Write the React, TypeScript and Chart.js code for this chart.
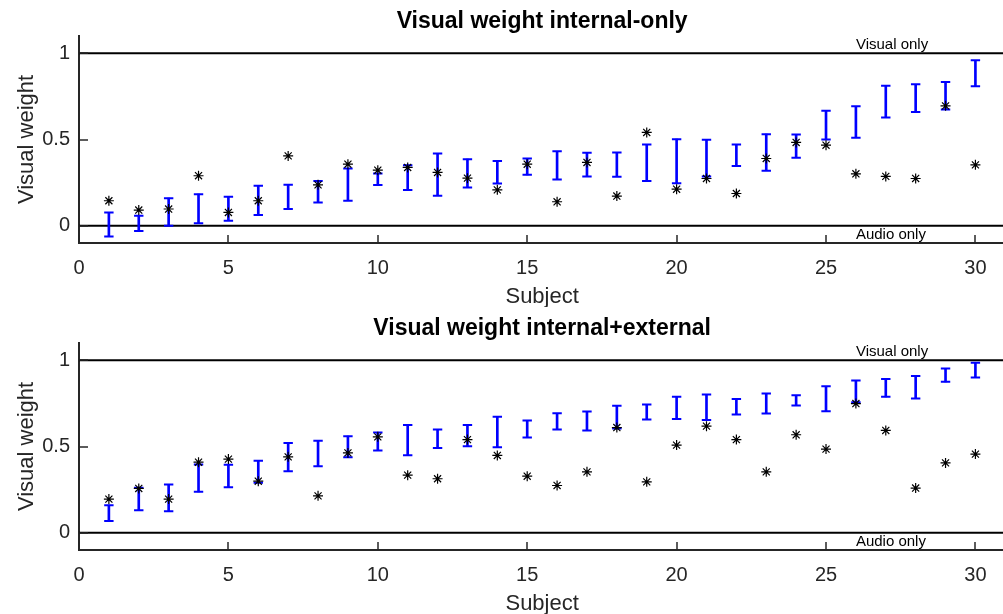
import React, { useEffect, useRef } from 'react';
import { Chart, registerables } from 'chart.js';

Chart.register(...registerables);

// ---------- data ----------
const SUBJECTS = [1, 2, 3, 4, 5, 6, 7, 8, 9, 10, 11, 12, 13, 14, 15, 16, 17, 18, 19, 20, 21, 22, 23, 24, 25, 26, 27, 28, 29, 30];
const X_TICKS = [0, 5, 10, 15, 20, 25, 30];
const Y_TICKS = [0, 0.5, 1];
const X_MIN = 0;
const X_MAX = 31;
const Y_MIN = -0.1;
const Y_MAX = 1.1;
const REFERENCE_LEVELS = [0, 1];
const ANNOTATION_TEXTS = ['Visual only', 'Audio only'];
const ANNOTATION_X = [26, 26];
const ANNOTATION_Y = [1.05, -0.05];

const TITLES = ['Visual weight internal-only', 'Visual weight internal+external'];
const X_LABEL = 'Subject';
const Y_LABEL = 'Visual weight';

const INTERNAL_LOW = [-0.062, -0.031, 0.0, 0.015, 0.029, 0.062, 0.097, 0.135, 0.145, 0.236, 0.207, 0.174, 0.222, 0.245, 0.295, 0.268, 0.286, 0.284, 0.259, 0.247, 0.286, 0.346, 0.319, 0.394, 0.5, 0.51, 0.627, 0.66, 0.674, 0.809];
const INTERNAL_HIGH = [0.077, 0.058, 0.16, 0.183, 0.168, 0.232, 0.237, 0.26, 0.332, 0.303, 0.351, 0.419, 0.386, 0.376, 0.39, 0.432, 0.423, 0.425, 0.471, 0.502, 0.498, 0.471, 0.531, 0.529, 0.666, 0.693, 0.811, 0.82, 0.834, 0.959];
const INTERNAL_OBSERVED = [0.145, 0.091, 0.097, 0.29, 0.077, 0.145, 0.405, 0.237, 0.357, 0.322, 0.338, 0.309, 0.276, 0.208, 0.357, 0.139, 0.367, 0.172, 0.541, 0.212, 0.274, 0.187, 0.39, 0.483, 0.467, 0.301, 0.286, 0.274, 0.695, 0.353];

const COMBINED_LOW = [0.068, 0.131, 0.125, 0.237, 0.264, 0.29, 0.357, 0.386, 0.438, 0.477, 0.45, 0.492, 0.502, 0.496, 0.552, 0.598, 0.593, 0.604, 0.656, 0.66, 0.653, 0.685, 0.691, 0.737, 0.705, 0.757, 0.788, 0.778, 0.875, 0.9];
const COMBINED_HIGH = [0.16, 0.261, 0.28, 0.396, 0.394, 0.417, 0.521, 0.533, 0.56, 0.581, 0.624, 0.598, 0.624, 0.672, 0.651, 0.693, 0.703, 0.736, 0.743, 0.788, 0.801, 0.776, 0.807, 0.797, 0.849, 0.882, 0.892, 0.909, 0.952, 0.986];
const COMBINED_OBSERVED = [0.195, 0.257, 0.195, 0.409, 0.427, 0.299, 0.44, 0.214, 0.463, 0.556, 0.334, 0.313, 0.54, 0.448, 0.328, 0.274, 0.353, 0.61, 0.295, 0.508, 0.618, 0.54, 0.353, 0.568, 0.485, 0.749, 0.593, 0.259, 0.405, 0.456];

// ---------- style ----------
const FONT = '"Liberation Sans", Arial, Helvetica, sans-serif';
const AXIS_COLOR = '#262626';
const BLUE = '#0000ff';
const CANVAS_W = 1012;
const CANVAS_H = 307;

const decorPlugin = {
  id: 'decor',
  afterDatasetsDraw(chart: any) {
    const { ctx, chartArea, scales } = chart;
    const x = scales.x;
    const y = scales.y;
    ctx.save();
    ctx.strokeStyle = AXIS_COLOR;
    ctx.lineWidth = 1.5;
    X_TICKS.forEach((v) => {
      const px = Math.round(x.getPixelForValue(v));
      ctx.beginPath();
      ctx.moveTo(px, chartArea.bottom);
      ctx.lineTo(px, chartArea.bottom - 8);
      ctx.stroke();
    });
    Y_TICKS.forEach((v) => {
      const py = Math.round(y.getPixelForValue(v));
      ctx.beginPath();
      ctx.moveTo(chartArea.left, py);
      ctx.lineTo(chartArea.left + 9, py);
      ctx.stroke();
    });
    ctx.fillStyle = '#000000';
    ctx.font = '15px ' + FONT;
    ctx.textBaseline = 'middle';
    ctx.textAlign = 'left';
    ANNOTATION_TEXTS.forEach((t, i) => {
      ctx.fillText(t, x.getPixelForValue(ANNOTATION_X[i]), y.getPixelForValue(ANNOTATION_Y[i]));
    });
    ctx.restore();
  },
};

function Panel({ title, low, high, observed }: { title: string; low: number[]; high: number[]; observed: number[] }) {
  const ref = useRef<HTMLCanvasElement | null>(null);
  useEffect(() => {
    if (!ref.current) return;
    const datasets: any[] = [
      {
        type: 'scatter',
        data: SUBJECTS.map((s, i) => ({ x: s, y: observed[i] })),
        pointStyle: 'star',
        pointRadius: 5,
        borderColor: '#000000',
        backgroundColor: '#000000',
        borderWidth: 1.2,
        order: 0,
      },
      {
        type: 'scatter',
        data: SUBJECTS.map((s, i) => ({ x: s, y: low[i] })),
        pointStyle: 'line',
        pointRadius: 4.7,
        borderColor: BLUE,
        borderWidth: 2,
        order: 1,
      },
      {
        type: 'scatter',
        data: SUBJECTS.map((s, i) => ({ x: s, y: high[i] })),
        pointStyle: 'line',
        pointRadius: 4.7,
        borderColor: BLUE,
        borderWidth: 2,
        order: 1,
      },
      {
        type: 'bar',
        data: SUBJECTS.map((s, i) => ({ x: s, y: [low[i], high[i]] })),
        backgroundColor: BLUE,
        borderWidth: 0,
        barThickness: 2,
        grouped: false,
        order: 2,
      },
      ...REFERENCE_LEVELS.map((lvl) => ({
        type: 'line',
        data: [
          { x: X_MIN, y: lvl },
          { x: X_MAX, y: lvl },
        ],
        borderColor: '#000000',
        borderWidth: 2,
        pointRadius: 0,
        fill: false,
        order: 3,
      })),
    ];

    const chart = new Chart(ref.current, {
      type: 'scatter',
      data: { datasets },
      options: {
        animation: false,
        responsive: false,
        devicePixelRatio: 1,
        events: [],
        layout: { padding: 0 },
        plugins: {
          legend: { display: false },
          tooltip: { enabled: false },
          title: {
            display: true,
            text: title,
            fullSize: false,
            color: '#000000',
            font: { family: FONT, size: 23, weight: 'bold', lineHeight: 1 },
            padding: { top: 10.3, bottom: 2.7 },
          },
        },
        scales: {
          x: {
            type: 'linear',
            position: 'bottom',
            min: X_MIN,
            max: X_MAX,
            offset: false,
            afterBuildTicks: (scale: any) => {
              scale.ticks = X_TICKS.map((v) => ({ value: v }));
            },
            afterFit: (scale: any) => {
              scale.height = 64;
            },
            ticks: {
              color: AXIS_COLOR,
              font: { family: FONT, size: 20 },
              padding: 13,
              maxRotation: 0,
              autoSkip: false,
              callback: (v: any) => String(v),
            },
            grid: { display: true, drawOnChartArea: false, drawTicks: false, offset: false },
            border: { display: true, color: AXIS_COLOR, width: 2 },
            title: {
              display: true,
              text: X_LABEL,
              color: AXIS_COLOR,
              font: { family: FONT, size: 22 },
              padding: { top: 0, bottom: -3 },
            },
          },
          y: {
            type: 'linear',
            min: Y_MIN,
            max: Y_MAX,
            afterBuildTicks: (scale: any) => {
              scale.ticks = Y_TICKS.map((v) => ({ value: v }));
            },
            afterFit: (scale: any) => {
              scale.width = 79;
            },
            ticks: {
              color: AXIS_COLOR,
              font: { family: FONT, size: 20 },
              padding: 9,
              autoSkip: false,
              callback: (v: any) => String(v),
            },
            grid: { display: true, drawOnChartArea: false, drawTicks: false },
            border: { display: true, color: AXIS_COLOR, width: 2 },
            title: {
              display: true,
              text: Y_LABEL,
              color: AXIS_COLOR,
              font: { family: FONT, size: 22 },
              padding: { top: 14, bottom: 0 },
            },
          },
        },
      } as any,
      plugins: [decorPlugin],
    } as any);
    return () => chart.destroy();
  }, [title, low, high, observed]);

  return (
    <div style={{ width: CANVAS_W, height: CANVAS_H }}>
      <canvas ref={ref} width={CANVAS_W} height={CANVAS_H} style={{ display: 'block', width: CANVAS_W, height: CANVAS_H }} />
    </div>
  );
}

export default function App() {
  return (
    <div
      style={{
        position: 'absolute',
        left: 0,
        top: 0,
        width: 1003,
        height: 614,
        overflow: 'hidden',
        background: '#ffffff',
      }}
    >
      <Panel title={TITLES[0]} low={INTERNAL_LOW} high={INTERNAL_HIGH} observed={INTERNAL_OBSERVED} />
      <Panel title={TITLES[1]} low={COMBINED_LOW} high={COMBINED_HIGH} observed={COMBINED_OBSERVED} />
    </div>
  );
}
